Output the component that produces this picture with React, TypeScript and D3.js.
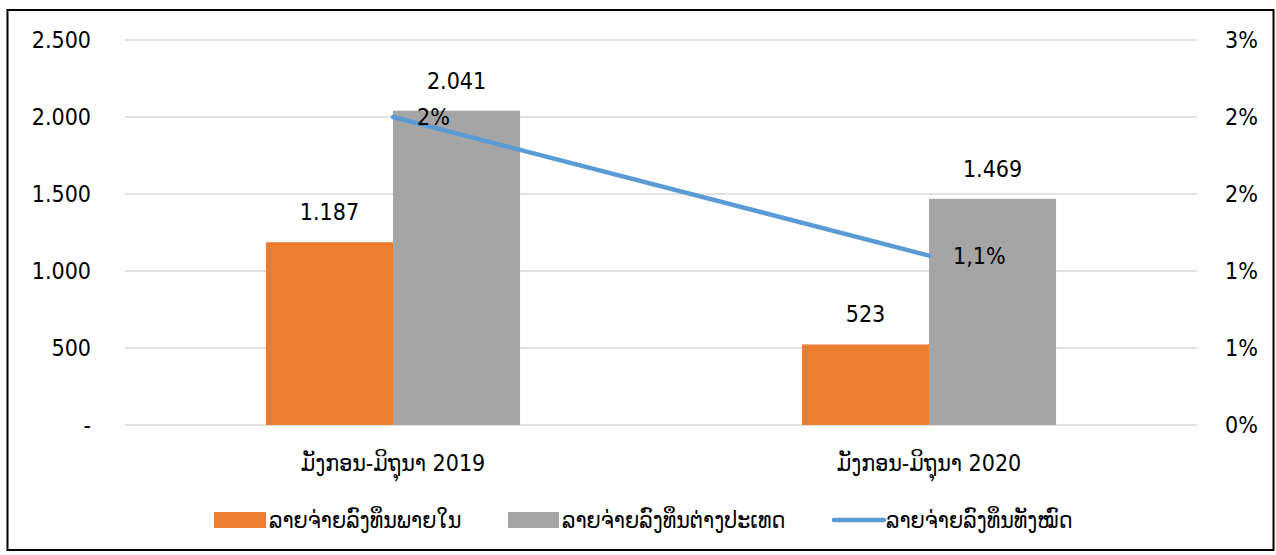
import React from "react";
import * as d3 from "d3";

const categories = ["ມັງກອນ-ມິຖຸນາ 2019", "ມັງກອນ-ມິຖຸນາ 2020"];
const seriesNames = ["ລາຍຈ່າຍລົງທຶນພາຍໃນ", "ລາຍຈ່າຍລົງທຶນຕ່າງປະເທດ", "ລາຍຈ່າຍລົງທຶນທັງໝົດ"];
const domestic = [1187, 523];
const foreign = [2041, 1469];
const total = [2.0, 1.1];
const barLabels = [["1.187", "2.041"], ["523", "1.469"]];
const lineLabels = ["2%", "1,1%"];
const leftTicks = [0, 500, 1000, 1500, 2000, 2500];
const leftTickLabels = ["-", "500", "1.000", "1.500", "2.000", "2.500"];
const rightTicks = [0, 0.5, 1, 1.5, 2, 2.5];
const rightTickLabels = ["0%", "1%", "1%", "2%", "2%", "3%"];

const colors = ["#ED7D31", "#A5A5A5", "#5B9BD5"];
const FONT = "'DejaVu Sans Condensed', 'DejaVu Sans', sans-serif";

export default function App() {
  const W = 1276, H = 555;
  const left = 125, right = 1197, top = 40, bottom = 425;
  const x0 = d3.scaleBand<string>().domain(categories).range([left, right]).paddingInner(0.526).paddingOuter(0.263);
  const x1 = d3.scaleBand<number>().domain([0, 1]).range([0, x0.bandwidth()]);
  const y = d3.scaleLinear().domain([0, 2500]).range([bottom, top]);
  const y2 = d3.scaleLinear().domain([0, 2.5]).range([bottom, top]);
  const center = (c: string) => (x0(c) as number) + x0.bandwidth() / 2;
  const linePath = d3.line<number>().x((_, i) => center(categories[i])).y((d) => y2(d))(total) as string;
  const series = [domestic, foreign];
  const fs = 23;

  return (
    <svg width={W} height={H} style={{ position: "absolute", left: 0, top: 0, background: "#fff" }} fontFamily={FONT}>
      <rect x={7.5} y={10} width={1266} height={540} fill="#fff" stroke="#000" strokeWidth={2} />
      {leftTicks.map((t, i) => (
        <g key={"g" + i}>
          <line x1={left} x2={right} y1={y(t)} y2={y(t)} stroke="#D9D9D9" strokeWidth={1.3} />
          <text x={91} y={y(t) + 8} textAnchor="end" fontSize={fs} fill="#000">{leftTickLabels[i]}</text>
        </g>
      ))}
      {rightTicks.map((t, i) => (
        <text key={"r" + i} x={1225} y={y2(t) + 8} fontSize={fs} fill="#000">{rightTickLabels[i]}</text>
      ))}
      {categories.map((c, ci) => (
        <g key={c}>
          {series.map((s, si) => (
            <g key={si}>
              <rect x={(x0(c) as number) + (x1(si) as number)} y={y(s[ci])} width={x1.bandwidth()} height={bottom - y(s[ci])} fill={colors[si]} />
              <text x={(x0(c) as number) + (x1(si) as number) + x1.bandwidth() / 2} y={y(s[ci]) - 22} textAnchor="middle" fontSize={fs} fill="#000">{barLabels[ci][si]}</text>
            </g>
          ))}
          <text x={center(c)} y={471} textAnchor="middle" fontSize={fs} fill="#000">{c}</text>
        </g>
      ))}
      <path d={linePath} fill="none" stroke={colors[2]} strokeWidth={4.5} strokeLinecap="round" />
      {categories.map((c, ci) => (
        <text key={"l" + ci} x={center(c) + 24} y={y2(total[ci]) + 8} fontSize={fs} fill="#000">{lineLabels[ci]}</text>
      ))}
      <g>
        <rect x={214} y={512} width={52} height={16} fill={colors[0]} />
        <text x={269} y={528} fontSize={fs} fill="#000">{seriesNames[0]}</text>
        <rect x={508} y={512} width={51} height={16} fill={colors[1]} />
        <text x={562} y={528} fontSize={fs} fill="#000">{seriesNames[1]}</text>
        <line x1={834} x2={884} y1={520} y2={520} stroke={colors[2]} strokeWidth={4.5} strokeLinecap="round" />
        <text x={886} y={528} fontSize={fs} fill="#000">{seriesNames[2]}</text>
      </g>
    </svg>
  );
}
